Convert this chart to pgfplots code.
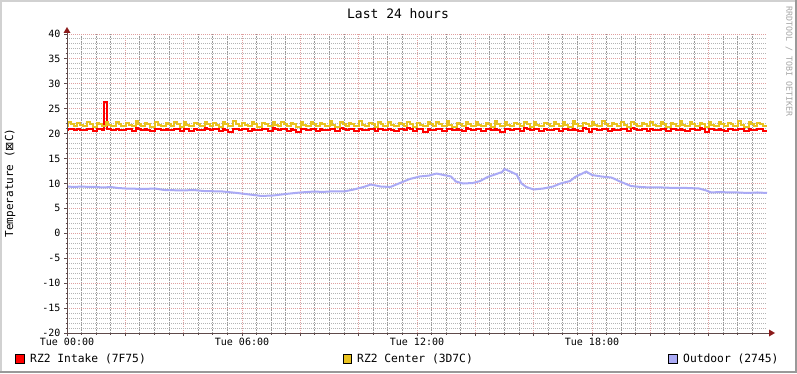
\documentclass[border=0pt]{standalone}
\usepackage{pgfplots}
\pgfplotsset{compat=1.18}
\usepackage{pgfplotstable}
\usepackage{fontspec}
\setmainfont{DejaVu Sans Mono}
\newfontfamily\symfont{DejaVu Sans}
\definecolor{cIntake}{HTML}{FF0000}
\definecolor{cCenter}{HTML}{E9C21F}
\definecolor{cOut}{HTML}{AAAAF5}
\definecolor{majgrid}{HTML}{E0A0A0}
\definecolor{mingrid}{HTML}{B4B4B4}
\definecolor{axiscol}{HTML}{5E4A4A}
\definecolor{arrowcol}{HTML}{8B1A1A}

\pgfplotstableread{
t r c
0 20.8 21.5
3 21.0 22.3
8 20.9 21.9
14 20.7 21.5
21 20.9 22.2
26 20.8 21.8
32 20.7 21.6
42 21.0 22.4
47 20.9 22.0
53 20.6 21.4
61 21.0 22.1
66 20.9 21.9
72 20.7 21.5
77 26.3 21.5
80 26.3 22.4
82 21.0 22.4
85 20.9 21.8
91 20.7 21.5
101 20.9 22.3
106 20.8 21.9
112 20.7 21.6
122 21.0 22.2
127 20.9 21.8
133 20.6 21.5
141 21.1 22.5
146 21.0 22.0
152 20.7 21.5
160 20.9 22.2
165 20.8 21.9
171 20.6 21.4
182 21.0 22.3
187 20.9 21.8
193 20.7 21.6
203 20.9 22.1
208 20.8 22.0
214 20.8 21.5
221 21.0 22.4
226 20.9 21.9
232 20.6 21.4
240 21.0 22.3
245 20.9 21.8
251 20.5 21.5
262 20.9 22.2
267 20.8 22.0
273 20.7 21.6
283 21.1 22.4
288 21.0 21.9
294 20.7 21.5
301 21.0 22.2
306 20.9 21.8
312 20.6 21.4
320 20.9 22.3
325 20.8 22.0
331 20.4 21.5
342 21.0 22.5
347 20.9 21.9
353 20.7 21.6
361 21.0 22.2
366 20.9 21.8
372 20.6 21.5
380 20.9 22.3
385 20.8 22.0
391 20.7 21.4
402 21.0 22.1
407 20.9 21.9
413 20.5 21.5
423 21.1 22.4
428 21.0 21.8
434 20.7 21.6
441 21.0 22.3
446 20.9 22.0
452 20.6 21.5
460 20.9 22.2
465 20.8 21.9
471 20.4 21.4
481 21.0 22.4
486 20.9 21.8
492 20.7 21.5
502 21.0 22.3
507 20.9 22.0
513 20.6 21.6
520 20.9 22.2
525 20.8 21.9
531 20.7 21.5
541 21.0 22.5
546 20.9 21.8
552 20.5 21.4
562 21.1 22.3
567 21.0 22.0
573 20.7 21.5
580 21.0 22.2
585 20.9 21.9
591 20.6 21.6
601 20.9 22.6
606 20.8 21.8
612 20.7 21.5
622 21.0 22.2
627 20.9 22.0
633 20.5 21.4
640 21.0 22.3
645 20.9 21.9
651 20.7 21.5
661 20.9 22.4
666 20.8 21.8
672 20.6 21.6
682 21.0 22.2
687 20.9 22.0
693 20.7 21.5
700 21.1 22.3
705 21.0 21.9
711 20.6 21.4
721 21.0 22.1
726 20.9 21.8
732 20.4 21.5
742 20.9 22.4
747 20.8 22.0
753 20.7 21.6
760 21.0 22.3
765 20.9 21.9
771 20.6 21.5
781 21.0 22.6
786 20.9 21.8
792 20.7 21.4
802 20.9 22.2
807 20.8 22.0
813 20.5 21.5
820 21.1 22.4
825 21.0 21.9
831 20.7 21.6
841 21.0 22.3
846 20.9 21.8
852 20.6 21.5
862 21.0 22.2
867 20.9 22.0
873 20.7 21.4
880 20.9 22.5
885 20.8 21.9
891 20.4 21.5
901 21.0 22.3
906 20.9 21.8
912 20.7 21.6
920 21.0 22.2
925 20.9 22.0
931 20.6 21.5
941 21.1 22.4
946 21.0 21.9
952 20.7 21.4
960 21.0 22.3
965 20.9 21.8
971 20.5 21.5
982 20.9 22.2
987 20.8 22.0
993 20.7 21.6
1001 21.0 22.4
1006 20.9 21.9
1012 20.6 21.5
1020 21.0 22.3
1025 20.9 21.8
1031 20.7 21.4
1041 20.9 22.5
1046 20.8 22.0
1052 20.6 21.5
1062 21.1 22.2
1067 21.0 21.9
1073 20.4 21.6
1080 21.0 22.3
1085 20.9 21.8
1091 20.7 21.5
1101 21.0 22.6
1106 20.9 22.0
1112 20.6 21.6
1121 20.9 22.2
1126 20.8 21.9
1132 20.7 21.5
1140 21.0 22.4
1145 20.9 21.8
1151 20.5 21.4
1161 21.1 22.3
1166 21.0 22.0
1172 20.7 21.5
1182 21.0 22.2
1187 20.9 21.9
1193 20.6 21.6
1200 20.9 22.4
1205 20.8 21.8
1211 20.7 21.5
1221 21.0 22.3
1226 20.9 22.0
1232 20.5 21.4
1242 21.0 22.2
1247 20.9 21.9
1253 20.7 21.5
1260 20.9 22.5
1265 20.8 21.8
1271 20.6 21.6
1281 21.0 22.3
1286 20.9 22.0
1292 20.7 21.5
1302 21.1 22.2
1307 21.0 21.9
1313 20.4 21.4
1320 21.0 22.4
1325 20.9 21.8
1331 20.7 21.5
1341 20.9 22.3
1346 20.8 22.0
1352 20.6 21.6
1360 21.0 22.2
1365 20.9 21.9
1371 20.7 21.5
1381 21.0 22.5
1386 20.9 21.8
1392 20.5 21.4
1402 20.9 22.3
1407 20.8 22.0
1413 20.7 21.5
1420 21.0 22.2
1425 20.9 21.9
1431 20.6 21.5
1440 20.6 21.5
}\tempdata

\pgfplotstableread{
t v
0 9.4
15 9.3
30 9.4
45 9.3
60 9.3
75 9.2
90 9.3
105 9.1
120 9.0
160 8.9
180 9.0
200 8.7
240 8.6
260 8.7
280 8.5
320 8.4
350 8.1
375 7.8
400 7.5
425 7.6
450 7.9
480 8.2
510 8.4
525 8.3
540 8.4
570 8.4
590 8.8
610 9.3
625 9.8
635 9.6
645 9.4
665 9.3
685 10.1
705 10.9
725 11.4
745 11.6
760 12.0
775 11.7
790 11.4
800 10.4
815 10.0
835 10.1
850 10.5
865 11.3
880 11.8
895 12.3
900 12.9
912 12.4
925 11.8
935 10.0
945 9.3
960 8.8
980 9.0
1000 9.4
1015 10.0
1035 10.5
1045 11.3
1060 12.0
1068 12.4
1080 11.7
1100 11.4
1120 11.2
1140 10.3
1160 9.5
1180 9.3
1200 9.2
1225 9.2
1250 9.1
1275 9.1
1300 9.0
1315 8.6
1325 8.2
1345 8.3
1360 8.2
1380 8.2
1400 8.1
1420 8.2
1440 8.1
}\outdata

\begin{document}
\begin{tikzpicture}[x=1pt,y=1pt]
\useasboundingbox (0,0) rectangle (797,373);
\fill[white] (0,0) rectangle (797,373);
\draw[line width=2pt, color=black!18] (1,0) -- (1,372) -- (797,372);
\draw[line width=2pt, color=black!40] (0,1) -- (796,1) -- (796,373);

\begin{axis}[
  at={(67pt,40pt)}, anchor=south west,
  scale only axis, width=700pt, height=299pt,
  xmin=0, xmax=1440, ymin=-20, ymax=40,
  axis line style={draw=none},
  xtick={0,120,...,1320},
  xticklabels={Tue 00:00,,,Tue 06:00,,,Tue 12:00,,,Tue 18:00,,},
  minor xtick={30,60,90,150,180,210,270,300,330,390,420,450,510,540,570,630,660,690,750,780,810,870,900,930,990,1020,1050,1110,1140,1170,1230,1260,1290,1350,1380,1410},
  ytick={-20,-15,...,40},
  yticklabels={-20,-15,-10,-5,0,5,10,15,20,25,30,35,40},
  minor ytick={-19,-18,-17,-16,-14,-13,-12,-11,-9,-8,-7,-6,-4,-3,-2,-1,1,2,3,4,6,7,8,9,11,12,13,14,16,17,18,19,21,22,23,24,26,27,28,29,31,32,33,34,36,37,38,39},
  grid=both,
  major grid style={draw=majgrid, line width=1pt, dash pattern=on 1pt off 1pt},
  minor grid style={draw=mingrid, line width=1pt, dash pattern=on 1pt off 1pt},
  minor x grid style={draw=black!40, line width=1pt, dash pattern=on 1.5pt off 1pt},
  tick style={draw=axiscol, line width=1pt},
  major tick length=3pt, minor tick length=1.5pt,
  tick align=outside, xtick pos=bottom, ytick pos=left,
  tick label style={font=\fontsize{10}{12}\selectfont, text=black},
  xticklabel style={yshift=1.5pt},
]
\addplot[const plot, cIntake, line width=2pt] table[x=t,y=r]{\tempdata};
\addplot[const plot, cCenter, line width=2pt] table[x=t,y=c]{\tempdata};
\addplot[sharp plot, cOut, line width=2pt] table[x=t,y=v]{\outdata};
\end{axis}

\draw[axiscol, line width=1pt] (64,40) -- (770,40);
\fill[arrowcol] (775,40) -- (769,36.5) -- (769,43.5) -- cycle;
\draw[axiscol, line width=1pt] (67,37) -- (67,341);
\fill[arrowcol] (67,346) -- (63.5,340) -- (70.5,340) -- cycle;

\node[font=\fontsize{13}{15}\selectfont] at (398,359) {Last 24 hours};
\node[rotate=90, font=\fontsize{11}{13}\selectfont] at (10,190) {Temperature ({\symfont ⊠}C)};
\node[rotate=-90, anchor=west, inner sep=0, font=\fontsize{8.3}{10}\selectfont, text=black!35] at (789,367) {RRDTOOL / TOBI OETIKER};

\draw[fill=cIntake, draw=black, line width=0.8pt] (15.5,10) rectangle (24,18.5);
\node[anchor=base west, inner sep=0, font=\fontsize{11.3}{13}\selectfont] at (30,10.7) {RZ2 Intake (7F75)};
\draw[fill=cCenter, draw=black, line width=0.8pt] (343,10) rectangle (351.5,18.5);
\node[anchor=base west, inner sep=0, font=\fontsize{11.3}{13}\selectfont] at (357,10.7) {RZ2 Center (3D7C)};
\draw[fill=cOut, draw=black, line width=0.8pt] (668.5,10) rectangle (677,18.5);
\node[anchor=base west, inner sep=0, font=\fontsize{11.3}{13}\selectfont] at (683,10.7) {Outdoor (2745)};
\end{tikzpicture}
\end{document}
